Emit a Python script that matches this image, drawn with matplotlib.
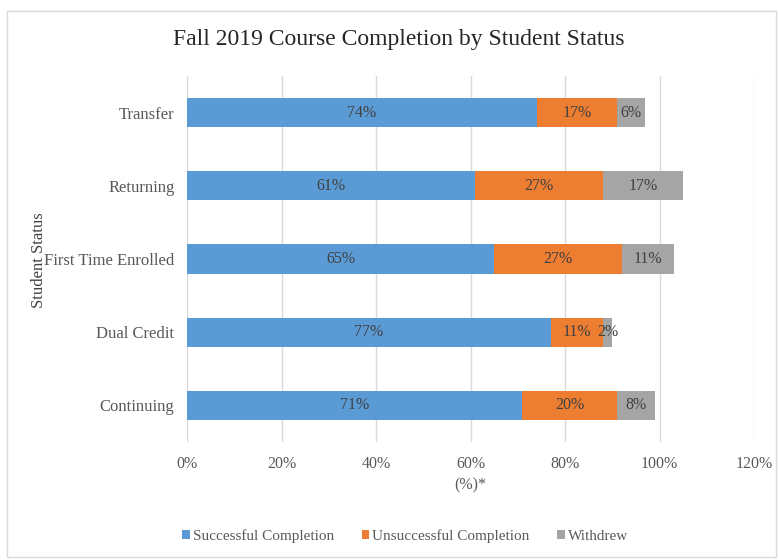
import matplotlib
matplotlib.use("Agg")
import matplotlib.pyplot as plt
from matplotlib.ticker import FuncFormatter
from matplotlib.patches import Rectangle
import numpy as np

# Datos (de arriba hacia abajo)
categories = ["Transfer", "Returning", "First Time Enrolled", "Dual Credit", "Continuing"]
successful = [74, 61, 65, 77, 71]
unsuccessful = [17, 27, 27, 11, 20]
withdrew = [6, 17, 11, 2, 8]
series_names = ["Successful Completion", "Unsuccessful Completion", "Withdrew"]
colors = ["#5B9BD5", "#ED7D31", "#A5A5A5"]
xticks = [0, 20, 40, 60, 80, 100, 120]

plt.rcParams["font.family"] = ["Liberation Serif", "DejaVu Serif"]
text_color = "#404040"

fig = plt.figure(figsize=(7.79, 5.60), dpi=100)
ax = fig.add_axes([187 / 779, 1 - 442 / 560, (754 - 187) / 779, (442 - 76) / 560])

y = np.arange(len(categories))[::-1]
left = np.zeros(len(categories))
for vals, name, col in zip([successful, unsuccessful, withdrew], series_names, colors):
    vals = np.array(vals, dtype=float)
    ax.barh(y, vals, left=left, height=0.4, color=col, label=name, zorder=3)
    for yi, l, v in zip(y, left, vals):
        ax.text(l + v / 2, yi, f"{int(v)}%", ha="center", va="center",
                fontsize=11.5, color=text_color, zorder=4)
    left += vals

ax.set_xlim(0, 120)
ax.set_ylim(-0.5, len(categories) - 0.5)
ax.set_xticks(xticks)
ax.xaxis.set_major_formatter(FuncFormatter(lambda v, p: f"{v:.0f}%"))
ax.set_yticks(y)
ax.set_yticklabels(categories)
ax.tick_params(axis="y", length=0, labelsize=12, colors="#595959", pad=9)
ax.tick_params(axis="x", length=0, labelsize=11.5, colors="#595959", pad=10)
ax.grid(axis="x", color="#D9D9D9", linewidth=1, zorder=0)
for s in ax.spines.values():
    s.set_visible(False)

ax.set_xlabel("(%)*", fontsize=11.5, color="#595959", labelpad=4)
ax.set_ylabel("Student Status", fontsize=12, color="#404040")
# posición del título del eje y en coordenadas de figura
ax.yaxis.set_label_coords(47 / 779, 1 - 260 / 560, transform=fig.transFigure)

fig.text(0.512, 1 - 40 / 560, "Fall 2019 Course Completion by Student Status",
         ha="center", va="center", fontsize=17, color="#262626")

ax.legend(loc="center", bbox_to_anchor=(0.52, 1 - 536 / 560), bbox_transform=fig.transFigure,
          ncol=3, frameon=False, fontsize=11, handlelength=0.5, handleheight=0.5,
          handletextpad=0.2, columnspacing=1.8, labelcolor="#595959")

# borde del área del gráfico
fig.patches.append(Rectangle((7 / 779, 3 / 560), 1 - 10 / 779, 1 - 14 / 560,
                             transform=fig.transFigure, fill=False,
                             edgecolor="#D9D9D9", linewidth=1))

fig.savefig("out.png", dpi=100)
